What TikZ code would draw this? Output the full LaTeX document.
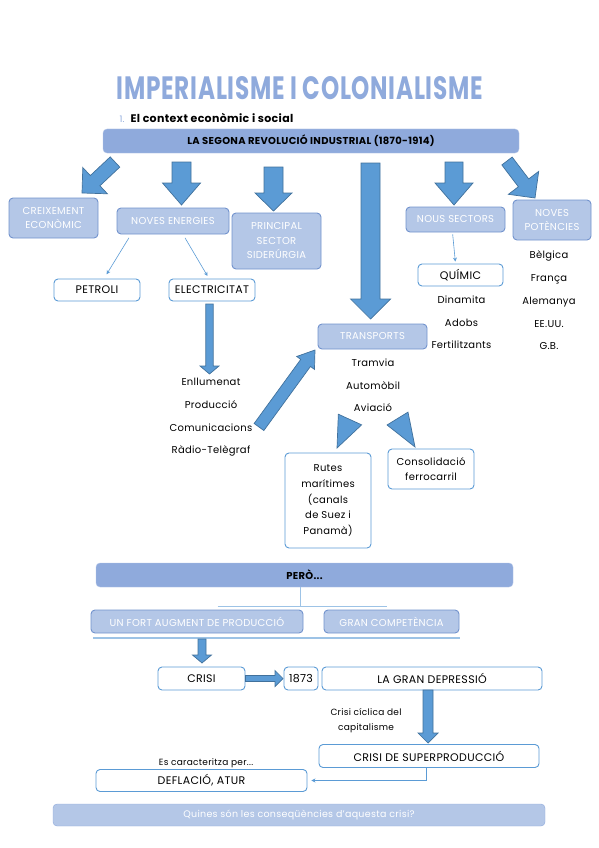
\documentclass[tikz,border=0pt]{standalone}
\usepackage{fontspec}
\setmainfont{Poppins}[LetterSpace=3]
\usetikzlibrary{calc, positioning, arrows.meta}
\definecolor{titolblau}{RGB}{143, 170, 220}
\definecolor{blaubarra}{RGB}{143, 170, 220}
\definecolor{blauclar}{RGB}{180, 199, 231}
\definecolor{voraclar}{RGB}{114, 147, 205}
\definecolor{blaufort}{RGB}{91, 155, 213}
\definecolor{blauvora}{RGB}{65, 113, 156}
\definecolor{liniaclara}{RGB}{157, 195, 230}

% fletxa grossa: origen, punta, mitja tija, mig cap, llargada del cap
\newcommand{\fletxagrossa}[5]{%
  \coordinate (fgcap) at ($(#2)!#5!(#1)$);
  \draw[grossa] ($(#1)!#3!90:(#2)$) -- ($(fgcap)!#3!90:(#2)$) -- ($(fgcap)!#4!90:(#2)$) -- (#2)
    -- ($(fgcap)!#4!-90:(#2)$) -- ($(fgcap)!#3!-90:(#2)$) -- ($(#1)!#3!-90:(#2)$) -- cycle;
}

\begin{document}
\begin{tikzpicture}[x=1pt, y=-1pt,
    capsa/.style={draw=voraclar, fill=blauclar, rounded corners=4pt, line width=0.9pt, text=white,
      align=center, inner sep=0pt, font=\fontsize{10}{14.5}\selectfont},
    blanca/.style={draw=blaufort, fill=white, rounded corners=4pt, line width=0.9pt,
      align=center, inner sep=0pt, font=\fontsize{11}{16}\selectfont},
    barra/.style={fill=blaubarra, draw=blaubarra!70!white, rounded corners=4pt, inner sep=0pt,
      font=\bfseries\fontsize{10}{12}\selectfont},
    fletxa/.style={-{Stealth[length=4pt, width=4pt]}, draw=blaufort, line width=0.6pt},
    linia/.style={draw=liniaclara, line width=0.8pt},
    llista/.style={align=center, font=\fontsize{10}{22.7}\selectfont},
    grossa/.style={fill=blaufort, draw=blauvora, line width=0.7pt}]
  \useasboundingbox (0,0) rectangle (599,848);

  % Titol
  \node[text=titolblau] (titol) at (300,88) {\resizebox{366pt}{23pt}{\bfseries IMPERIALISME I COLONIALISME}};
  \node[anchor=west, font=\bfseries\fontsize{11}{13}\selectfont] (apartat) at (116,118)
    {{\color{titolblau}\mdseries\fontsize{9}{10}\selectfont 1.}\hspace{6pt}El context econòmic i social};
  \node[barra, minimum width=416, minimum height=24] (revolucio) at (311,141) {LA SEGONA REVOLUCIÓ INDUSTRIAL (1870-1914)};

  % Caixes de la primera part
  \node[capsa, minimum width=89, minimum height=40] (creixement) at (53.5,218) {CREIXEMENT\\ECONÒMIC};
  \node[capsa, minimum width=112, minimum height=26] (energies) at (173,221) {NOVES ENERGIES};
  \node[capsa, minimum width=89, minimum height=56] (siderurgia) at (276.5,241) {PRINCIPAL\\SECTOR\\SIDERÚRGIA};
  \node[capsa, minimum width=99, minimum height=25] (sectors) at (455.5,219.5) {NOUS SECTORS};
  \node[capsa, minimum width=78, minimum height=40] (potencies) at (552,220) {NOVES\\POTÈNCIES};
  \node[blanca, minimum width=86, minimum height=22] (petroli) at (97,290) {PETROLI};
  \node[blanca, minimum width=86, minimum height=22] (electricitat) at (212,290) {ELECTRICITAT};
  \node[blanca, minimum width=85, minimum height=22] (quimic) at (460.5,275) {QUÍMIC};
  \node[capsa, minimum width=109, minimum height=25] (transports) at (372.5,336.5) {TRANSPORTS};
  \node[blanca, minimum width=86, minimum height=95, font=\fontsize{10}{15.8}\selectfont] (rutes) at (328,500.5)
    {Rutes\\marítimes\\(canals\\de Suez i\\Panamà)};
  \node[blanca, minimum width=86, minimum height=40, font=\fontsize{10}{15.5}\selectfont] (ferrocarril) at (431,469)
    {Consolidació\\ferrocarril};

  % Llistes
  \node[llista] (quimics) at (461.5,322.5) {Dinamita\\Adobs\\Fertilitzants};
  \node[llista] (paisos) at (549,300.5) {Bèlgica\\França\\Alemanya\\EE.UU.\\G.B.};
  \node[llista] (mitjans) at (373,385.5) {Tramvia\\Automòbil\\Aviació};
  \node[llista] (usos) at (211,417.5) {Enllumenat\\Producció\\Comunicacions\\Ràdio-Telègraf};

  % Fletxes fines
  \draw[fletxa, shorten <=4pt, shorten >=5pt] ([xshift=-42pt]energies.south) -- ([xshift=7pt]petroli.north);
  \draw[fletxa, shorten <=4pt, shorten >=3pt] ([xshift=10pt]energies.south) -- ([xshift=-3pt]electricitat.north);
  \draw[fletxa, shorten <=2pt, shorten >=2pt] ([xshift=-3pt]sectors.south) -- ([xshift=-5pt]quimic.north);

  % Fletxes grosses
  \coordinate (g1a) at (115,162);   \coordinate (g1b) at (82,193);
  \coordinate (g2a) at (181.5,162); \coordinate (g2b) at (181.5,205);
  \coordinate (g3a) at (273.5,167); \coordinate (g3b) at (273.5,211);
  \coordinate (g4a) at (370.5,163); \coordinate (g4b) at (370.5,319);
  \coordinate (g5a) at (454,162);   \coordinate (g5b) at (454,205);
  \coordinate (g6a) at (507,161);   \coordinate (g6b) at (535,198);
  \coordinate (g7a) at (209.5,304); \coordinate (g7b) at (209.5,374);
  \coordinate (g8a) at (259,427);   \coordinate (g8b) at (315,350);
  \coordinate (g9a) at (350,419.5); \coordinate (g9b) at (337,448);
  \coordinate (g10a) at (397.5,418.5); \coordinate (g10b) at (415,447);
  \fletxagrossa{g1a}{g1b}{7pt}{18pt}{18pt}
  \fletxagrossa{g2a}{g2b}{9.5pt}{19pt}{22pt}
  \fletxagrossa{g3a}{g3b}{9.5pt}{18.5pt}{18pt}
  \fletxagrossa{g4a}{g4b}{9.5pt}{20pt}{20pt}
  \fletxagrossa{g5a}{g5b}{9pt}{19pt}{22pt}
  \fletxagrossa{g6a}{g6b}{6.5pt}{19pt}{19pt}
  \fletxagrossa{g7a}{g7b}{3.7pt}{9.5pt}{8pt}
  \fletxagrossa{g8a}{g8b}{6pt}{11pt}{16pt}
  \fletxagrossa{g9a}{g9b}{0pt}{12.8pt}{31.3pt}
  \fletxagrossa{g10a}{g10b}{0pt}{12.3pt}{33.4pt}

  % Segona part
  \node[barra, minimum width=417, minimum height=24] (pero) at (304.5,575) {PERÒ...};
  \node[capsa, minimum width=212, minimum height=23] (augment) at (197,621.5) {UN FORT AUGMENT DE PRODUCCIÓ};
  \node[capsa, minimum width=135, minimum height=23] (competencia) at (391.5,621.5) {GRAN COMPETÈNCIA};
  \draw[linia] ([xshift=-4pt]pero.south) -- ++(0,19) coordinate (forquilla);
  \draw[linia] ([xshift=-83pt]forquilla) -- ([xshift=86pt]forquilla);
  \draw[linia, line width=1.2pt] (93,638) -- (460,638);

  \node[blanca, minimum width=87, minimum height=23] (crisi) at (201.5,678.5) {CRISI};
  \node[blanca, minimum width=34, minimum height=23] (any) at (301,678.5) {1873};
  \node[blanca, minimum width=220, minimum height=23] (depressio) at (432,678.5) {LA GRAN DEPRESSIÓ};
  \node[font=\fontsize{9}{15}\selectfont, align=center] (ciclica) at (366,721) {Crisi cíclica del\\capitalisme};
  \node[blanca, minimum width=220, minimum height=23] (superproduccio) at (429,756) {CRISI DE SUPERPRODUCCIÓ};
  \node[blanca, minimum width=211, minimum height=22] (deflacio) at (201.5,780.5) {DEFLACIÓ, ATUR};
  \node[font=\fontsize{9}{10}\selectfont] (caracteritza) at (206,763) {Es caracteritza per...};
  \node[barra, fill=blauclar, draw=blaubarra, minimum width=492, minimum height=22, text=white,
    font=\fontsize{9.5}{11}\selectfont] (pregunta) at (299,815) {Quines són les conseqüències d'aquesta crisi?};

  \coordinate (g11a) at (202,639);  \coordinate (g11b) at (202,663);
  \coordinate (g12b) at (283,678.5);
  \coordinate (g13a) at (428,690);  \coordinate (g13b) at (428,743);
  \fletxagrossa{g11a}{g11b}{4pt}{9.5pt}{8pt}
  \fletxagrossa{crisi.east}{g12b}{3pt}{8pt}{8pt}
  \fletxagrossa{g13a}{g13b}{5pt}{10pt}{10pt}
  \draw[fletxa, shorten >=4pt] ([xshift=-3pt]superproduccio.south) |- (deflacio.east);
\end{tikzpicture}
\end{document}
